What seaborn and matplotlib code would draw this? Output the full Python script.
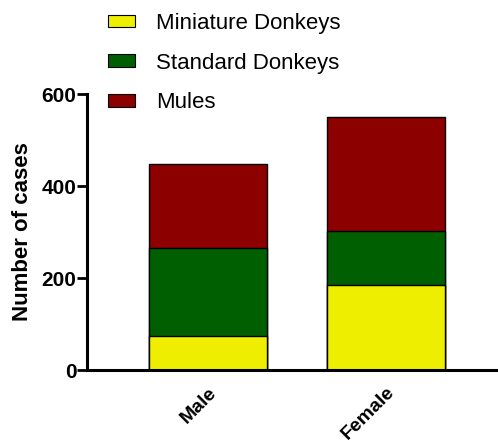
import numpy as np
import pandas as pd
import matplotlib
matplotlib.use("Agg")
import matplotlib.pyplot as plt
import seaborn as sns

SEXES = ["Male", "Female"]
MINIATURE = [74, 185]
STANDARD = [192, 117]
MULES = [181, 247]

SERIES_NAMES = ["Miniature Donkeys", "Standard Donkeys", "Mules"]
COLORS = ["#EEEE00", "#005F00", "#8C0000"]

sns.set_style("white")
plt.rcParams["font.family"] = ["Liberation Sans", "DejaVu Sans"]
plt.rcParams.update({
    "text.color": "black",
    "axes.labelcolor": "black",
    "axes.edgecolor": "black",
    "xtick.color": "black",
    "ytick.color": "black",
})

df = pd.DataFrame({
    "sex": SEXES,
    "Miniature Donkeys": MINIATURE,
    "Standard Donkeys": STANDARD,
    "Mules": MULES,
})
# cumulative heights for stacking (drawn tallest first)
cum = df[SERIES_NAMES].cumsum(axis=1)

fig = plt.figure(figsize=(4.98, 4.46), dpi=100)
ax = fig.add_axes([0.1747, 0.1704, 0.8253, 0.6188])

handles = []
for name, color in reversed(list(zip(SERIES_NAMES, COLORS))):
    sns.barplot(x=df["sex"], y=cum[name], color=color, width=0.66,
                edgecolor="black", linewidth=1.0, saturation=1, ax=ax)
    handles.append(plt.Rectangle((0, 0), 1, 1, facecolor=color,
                                 edgecolor="black", linewidth=0.8, label=name))

ax.set_xlim(-0.68, 1.63)
ax.set_ylim(0, 600)
ax.set_yticks([0, 200, 400, 600])
ax.set_ylabel("Number of cases", fontsize=16, fontweight="bold", labelpad=6)
ax.set_xlabel("")

sns.despine(ax=ax)
ax.spines["left"].set_linewidth(2.2)
ax.spines["bottom"].set_linewidth(2.2)
ax.tick_params(axis="y", direction="out", length=7, width=2, labelsize=15,
               left=True, pad=0.5)
ax.tick_params(axis="x", length=0, labelsize=14, pad=10)
for lab in ax.get_yticklabels():
    lab.set_fontweight("bold")
for lab in ax.get_xticklabels():
    lab.set_fontweight("bold")
    lab.set_rotation(45)
    lab.set_ha("right")
    lab.set_rotation_mode("anchor")

fig.legend(handles=handles[::-1], loc="upper left",
           bbox_to_anchor=(108 / 498, 1 - 13 / 446), frameon=False,
           fontsize=16, handlelength=1.2, handleheight=0.5,
           handletextpad=0.95, labelspacing=0.84, borderpad=0,
           borderaxespad=0)

fig.savefig("out.png", dpi=100)
